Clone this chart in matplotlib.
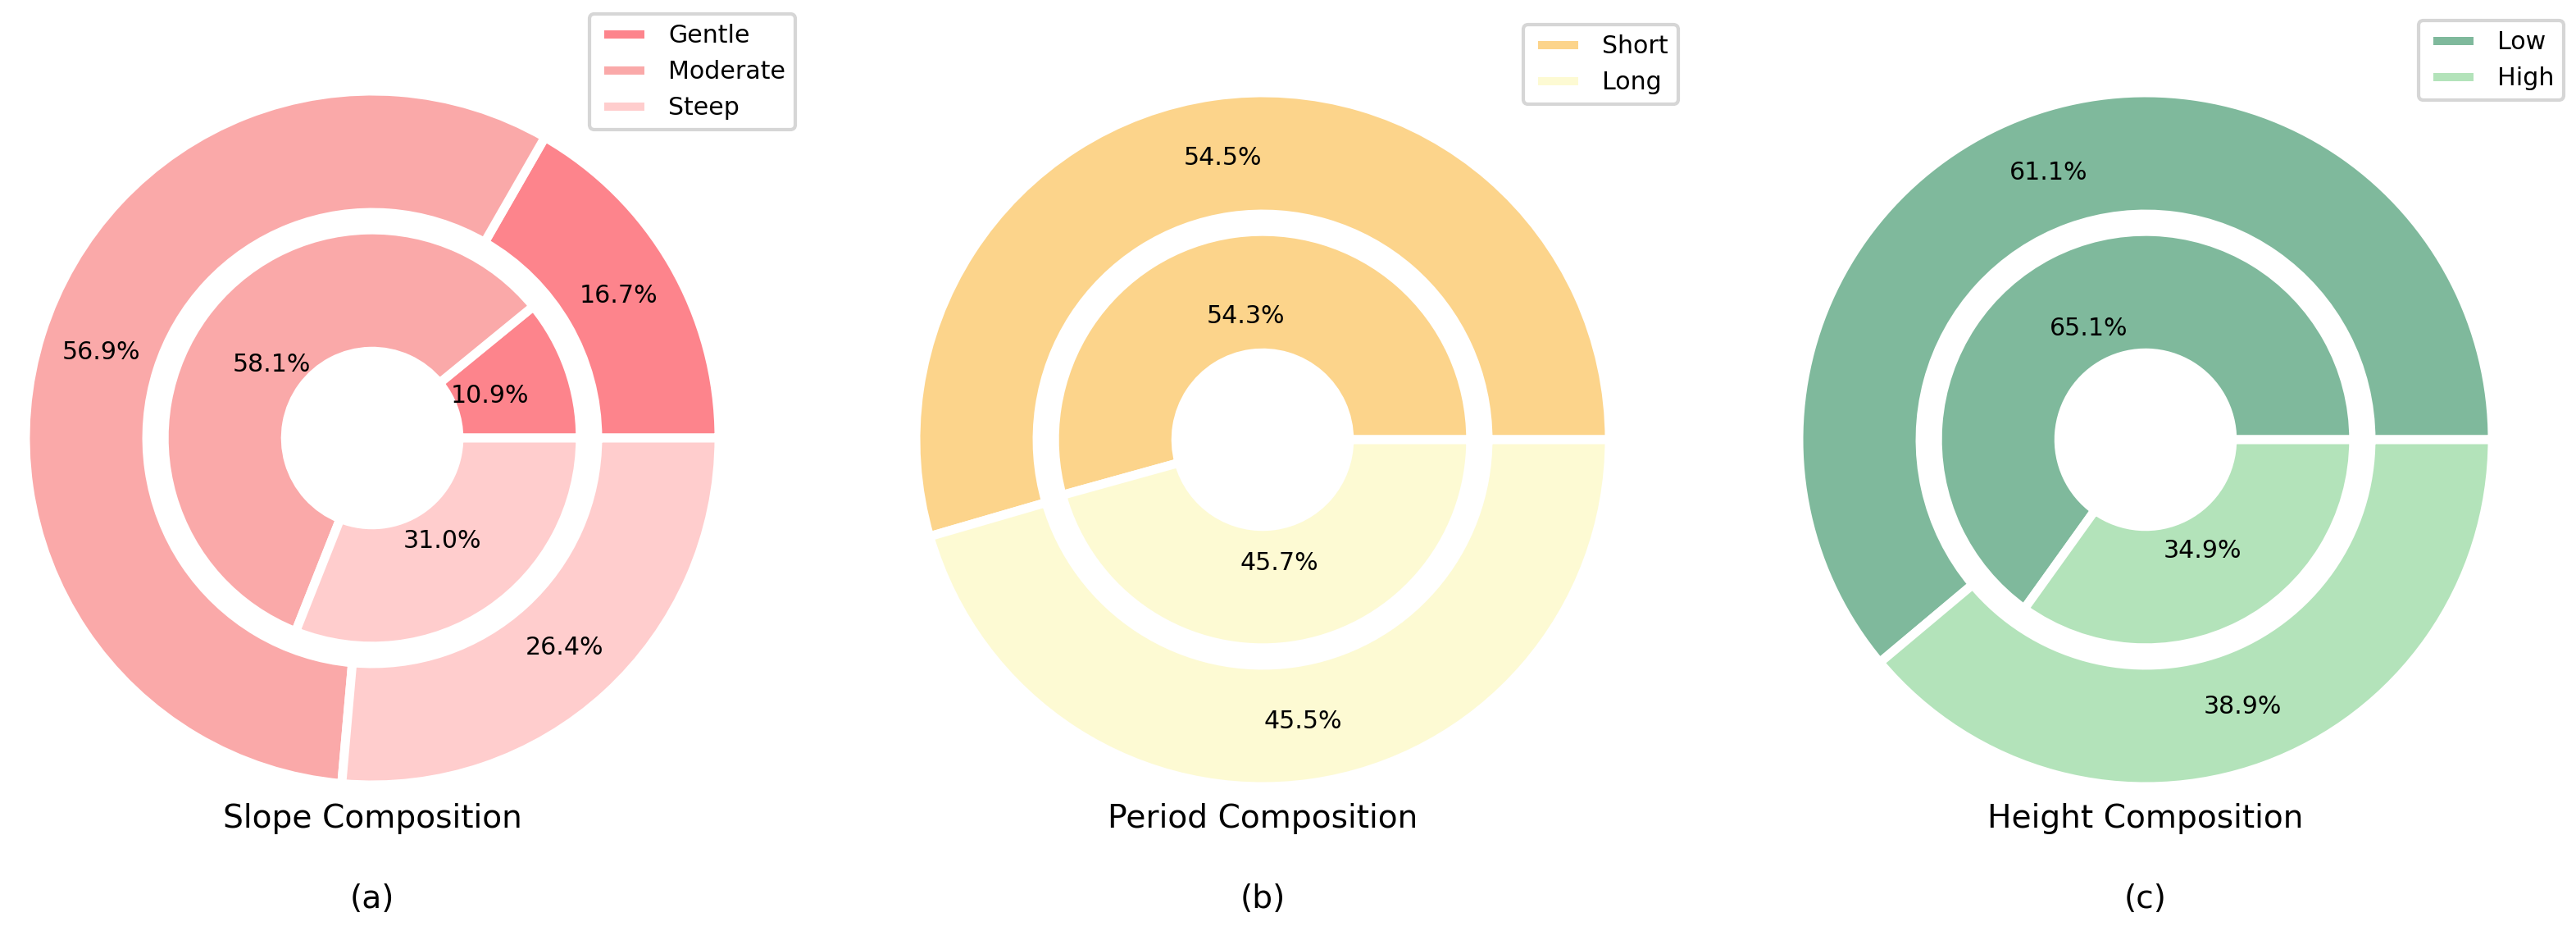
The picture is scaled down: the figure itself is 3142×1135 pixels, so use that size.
import numpy as np
import matplotlib
matplotlib.use('Agg')
import matplotlib.pyplot as plt

# data
slope_labels = ['Gentle', 'Moderate', 'Steep']
slope_outer = [16.7, 56.9, 26.4]
slope_inner = [10.9, 58.1, 31.0]

period_labels = ['Short', 'Long']
period_outer = [54.5, 45.5]
period_inner = [54.3, 45.7]

height_labels = ['Low', 'High']
height_outer = [61.1, 38.9]
height_inner = [65.1, 34.9]

titles = ['Slope Composition', 'Period Composition', 'Height Composition']
tags = ['(a)', '(b)', '(c)']

slope_colors = ['#FD848C', '#FAA9A9', '#FFCDCD']
period_colors = ['#FCD48B', '#FDFAD3']
height_colors = ['#7FB99C', '#B3E3BA']

W, H = 3142, 1135
DPI = 300
R_PX = 423  # pie radius in pixels

fig = plt.figure(figsize=(W / DPI, H / DPI), dpi=DPI)

panels = [
    (slope_labels, slope_outer, slope_inner, slope_colors, 454, 534, (970, 17)),
    (period_labels, period_outer, period_inner, period_colors, 1540, 536, (2047, 30)),
    (height_labels, height_outer, height_inner, height_colors, 2617, 536, (3127, 25)),
]

lim = 1.05
lw = 11 * 72 / DPI

for i, (labels, outer, inner, colors, cx, cy, leg) in enumerate(panels):
    half = lim * R_PX
    ax = fig.add_axes([(cx - half) / W, 1 - (cy + half) / H, 2 * half / W, 2 * half / H])
    wedges, _, _ = ax.pie(outer, radius=1, startangle=0, colors=colors,
                          autopct='%1.1f%%', pctdistance=0.82,
                          wedgeprops=dict(width=0.35, edgecolor='white', linewidth=lw),
                          textprops=dict(fontsize=7.2, color='black'))
    ax.pie(inner, radius=0.6, startangle=0, colors=colors,
           autopct='%1.1f%%', pctdistance=0.6,
           wedgeprops=dict(width=0.35, edgecolor='white', linewidth=lw),
           textprops=dict(fontsize=7.2, color='black'))
    ax.set_xlim(-lim, lim)
    ax.set_ylim(-lim, lim)
    ax.set_aspect('equal')
    ax.axis('off')
    ax.legend(wedges, labels, loc='upper right', fontsize=7.2,
              bbox_to_anchor=(leg[0] / W, 1 - leg[1] / H),
              bbox_transform=fig.transFigure, borderaxespad=0)
    fig.text(cx / W, 1 - 998 / H, titles[i], fontsize=9.4, ha='center', va='center')
    fig.text(cx / W, 1 - 1096 / H, tags[i], fontsize=9.4, ha='center', va='center')

fig.savefig('out.png', dpi=DPI)
